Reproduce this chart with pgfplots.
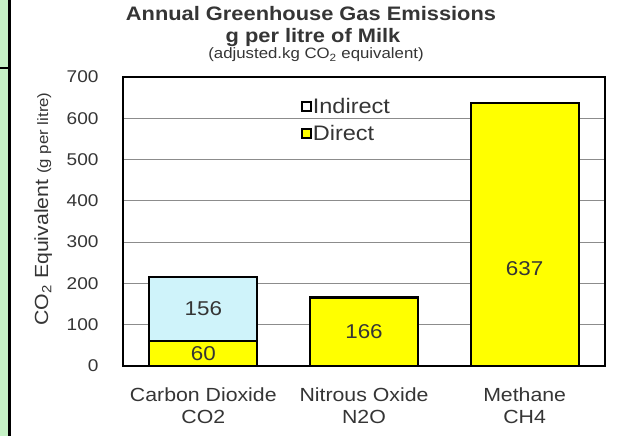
\documentclass[border=0pt]{standalone}
\usepackage{fontspec}
\setmainfont{Liberation Sans}[FakeStretch=1.12]
\usepackage{pgfplots}
\pgfplotsset{compat=1.18}

\definecolor{barYellow}{HTML}{FFFF00}
\definecolor{barCyan}{HTML}{CFF3FA}
\definecolor{leftGreen}{HTML}{C6F2C6}
\definecolor{gridGray}{HTML}{8C8C8C}
\definecolor{labelGray}{HTML}{353535}

\begin{document}
\begin{tikzpicture}
% page frame with the green margin strip on the left
\path[use as bounding box, fill=white] (0pt,0pt) rectangle (619pt,-436pt);
\fill[leftGreen] (0pt,0pt) rectangle (7.5pt,-436pt);
\fill[black] (7.5pt,0pt) rectangle (11pt,-436pt);
\draw[line width=1.5pt] (0pt,-68pt) -- (8pt,-68pt);

\begin{axis}[
  at={(123pt,-366pt)}, anchor=south west,
  scale only axis, width=482pt, height=289pt,
  ybar stacked, bar width=0.672,
  xmin=-0.5, xmax=2.5, ymin=0, ymax=700,
  xtick={0,1,2},
  xticklabels={{Carbon Dioxide\\CO2},{Nitrous Oxide\\N2O},{Methane\\CH4}},
  xticklabel style={align=center, font=\fontsize{19}{22}\selectfont, text=labelGray, yshift=-18pt},
  ytick={0,100,...,700},
  yticklabel style={font=\fontsize{17}{17}\selectfont, text=labelGray, xshift=-21pt},
  /pgf/number format/assume math mode=true,
  major tick length=0pt,
  ymajorgrids, grid style={gridGray, line width=1.2pt},
  axis line style={line width=1.6pt},
  reverse legend,
  legend cell align=left,
  legend style={at={(0.369,0.93)}, anchor=north west, draw=none, fill=none,
    font=\fontsize{21}{21}\selectfont, row sep=8pt, inner sep=0pt,
    nodes={inner sep=1pt, text=labelGray}},
  legend image code/.code={\draw[#1, draw=black, line width=1.8pt] (0pt,-4.5pt) rectangle (9pt,4.5pt);},
]
% Direct emissions for each gas
\addplot[fill=barYellow, draw=black, line width=2.2pt] coordinates {(0,60) (1,166) (2,637)};
\addlegendentry{Direct}
% Indirect emissions (carbon dioxide only)
\addplot[fill=barCyan, draw=black, line width=2.2pt,
  legend image code/.code={\draw[fill=white, draw=black, line width=1.8pt] (0pt,-4.5pt) rectangle (9pt,4.5pt);}]
  coordinates {(0,156)};
\addlegendentry{Indirect}

% anchors for the value labels inside each segment
\coordinate (vIndCO2) at (axis cs:0,138);
\coordinate (vDirCO2) at (axis cs:0,30);
\coordinate (vDirN2O) at (axis cs:1,83);
\coordinate (vDirCH4) at (axis cs:2,237);
\end{axis}

% value labels inside the bars
\begin{scope}[every node/.style={font=\fontsize{20}{20}\selectfont, text=labelGray}]
\node at (vIndCO2) {156};
\node at (vDirCO2) {60};
\node at (vDirN2O) {166};
\node at (vDirCH4) {637};
\end{scope}

% titles
\node[anchor=base, font=\bfseries\fontsize{19.5}{20}\selectfont, text=labelGray] at (311pt,-21pt) {Annual Greenhouse Gas Emissions};
\node[anchor=base, font=\bfseries\fontsize{19.5}{20}\selectfont, text=labelGray] at (313pt,-43pt) {g per litre of Milk};
\node[anchor=base, font=\fontsize{15}{15}\selectfont, text=labelGray] at (316pt,-59pt) {(adjusted.kg CO\textsubscript{2} equivalent)};

% y axis title
\node[rotate=90, anchor=base, text=labelGray] at (48pt,-209pt)
  {\fontsize{19}{19}\selectfont CO\textsubscript{2} Equivalent \fontsize{15}{15}\selectfont(g per litre)};
\end{tikzpicture}
\end{document}
